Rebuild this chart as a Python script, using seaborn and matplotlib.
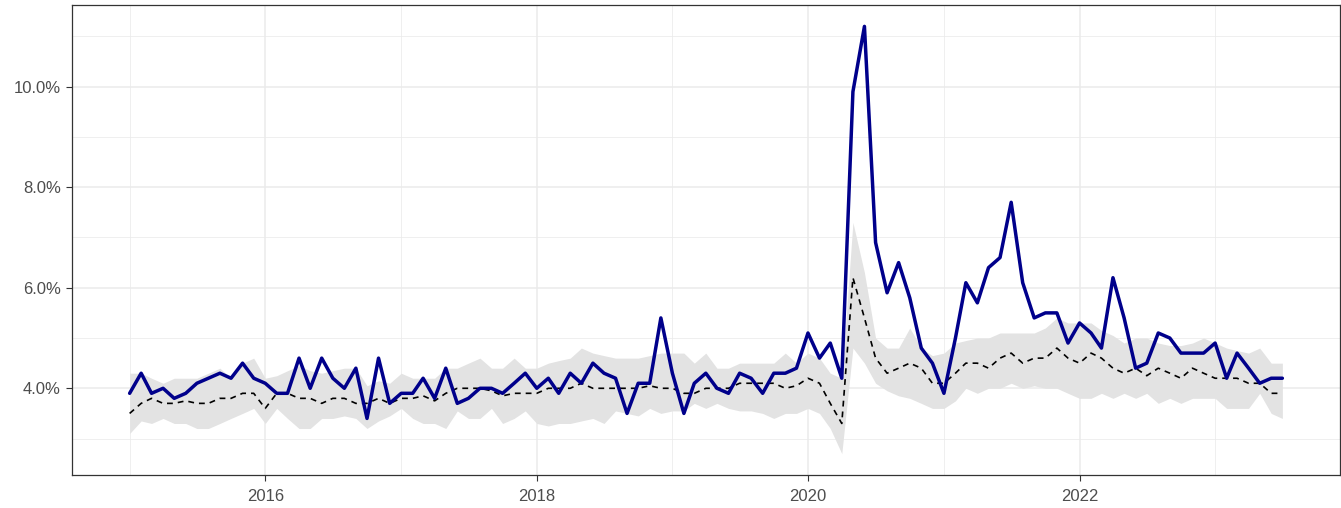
import numpy as np
import pandas as pd
import matplotlib
matplotlib.use("Agg")
import matplotlib.pyplot as plt
import matplotlib.dates as mdates
from matplotlib.ticker import FixedLocator, FuncFormatter
import seaborn as sns

# ---- data (percent) ----
dates = pd.date_range("2015-01-01", "2023-07-01", freq="MS")

actual = [3.9, 4.3, 3.9, 4.0, 3.8, 3.9, 4.1, 4.2, 4.3, 4.2, 4.5, 4.2,
          4.1, 3.9, 3.9, 4.6, 4.0, 4.6, 4.2, 4.0, 4.4, 3.4, 4.6, 3.7,
          3.9, 3.9, 4.2, 3.8, 4.4, 3.7, 3.8, 4.0, 4.0, 3.9, 4.1, 4.3,
          4.0, 4.2, 3.9, 4.3, 4.1, 4.5, 4.3, 4.2, 3.5, 4.1, 4.1, 5.4,
          4.3, 3.5, 4.1, 4.3, 4.0, 3.9, 4.3, 4.2, 3.9, 4.3, 4.3, 4.4,
          5.1, 4.6, 4.9, 4.2, 9.9, 11.2, 6.9, 5.9, 6.5, 5.8, 4.8, 4.5,
          3.9, 5.0, 6.1, 5.7, 6.4, 6.6, 7.7, 6.1, 5.4, 5.5, 5.5, 4.9,
          5.3, 5.1, 4.8, 6.2, 5.4, 4.4, 4.5, 5.1, 5.0, 4.7, 4.7, 4.7,
          4.9, 4.2, 4.7, 4.4, 4.1, 4.2, 4.2]

predicted = [3.5, 3.7, 3.8, 3.7, 3.7, 3.75, 3.7, 3.7, 3.8, 3.8, 3.9, 3.9,
             3.6, 3.9, 3.9, 3.8, 3.8, 3.7, 3.8, 3.8, 3.7, 3.7, 3.8, 3.7,
             3.8, 3.8, 3.85, 3.75, 3.9, 4.0, 4.0, 4.0, 3.95, 3.85, 3.9, 3.9,
             3.9, 4.0, 4.0, 4.0, 4.1, 4.0, 4.0, 4.0, 4.0, 4.0, 4.05, 4.0,
             4.0, 3.9, 3.9, 4.0, 4.0, 4.0, 4.1, 4.1, 4.1, 4.1, 4.0, 4.05,
             4.2, 4.1, 3.7, 3.3, 6.2, 5.4, 4.6, 4.3, 4.4, 4.5, 4.4, 4.1,
             4.1, 4.3, 4.5, 4.5, 4.4, 4.6, 4.7, 4.5, 4.6, 4.6, 4.8, 4.6,
             4.5, 4.7, 4.6, 4.4, 4.3, 4.4, 4.25, 4.4, 4.3, 4.2, 4.4, 4.3,
             4.2, 4.2, 4.2, 4.1, 4.1, 3.9, 3.9]

upper = [4.3, 4.3, 4.2, 4.1, 4.2, 4.2, 4.2, 4.3, 4.4, 4.2, 4.5, 4.6,
         4.2, 4.25, 4.35, 4.45, 4.35, 4.3, 4.35, 4.4, 4.4, 4.05, 4.15, 4.1,
         4.3, 4.2, 4.2, 4.2, 4.4, 4.4, 4.5, 4.6, 4.4, 4.4, 4.6, 4.4,
         4.4, 4.5, 4.55, 4.6, 4.8, 4.7, 4.65, 4.6, 4.6, 4.6, 4.65, 4.7,
         4.7, 4.7, 4.5, 4.7, 4.4, 4.4, 4.5, 4.5, 4.5, 4.5, 4.7, 4.5,
         4.7, 4.6, 4.3, 4.2, 7.3, 6.3, 5.0, 4.8, 4.8, 5.2, 4.8, 4.65,
         4.7, 4.9, 4.95, 5.0, 5.0, 5.1, 5.1, 5.1, 5.1, 5.2, 5.4, 5.3,
         5.3, 5.3, 5.15, 5.05, 4.9, 5.0, 5.0, 4.9, 4.85, 4.85, 4.9, 5.0,
         4.9, 4.8, 4.75, 4.7, 4.8, 4.5, 4.5]

lower = [3.1, 3.35, 3.3, 3.4, 3.3, 3.3, 3.2, 3.2, 3.3, 3.4, 3.5, 3.6,
         3.3, 3.6, 3.4, 3.2, 3.2, 3.4, 3.4, 3.45, 3.4, 3.2, 3.35, 3.45,
         3.6, 3.4, 3.3, 3.3, 3.2, 3.55, 3.4, 3.4, 3.6, 3.3, 3.4, 3.55,
         3.3, 3.25, 3.3, 3.3, 3.35, 3.4, 3.3, 3.55, 3.5, 3.45, 3.6, 3.5,
         3.55, 3.55, 3.7, 3.6, 3.7, 3.6, 3.55, 3.55, 3.5, 3.4, 3.5, 3.5,
         3.6, 3.5, 3.2, 2.7, 4.8, 4.5, 4.1, 3.95, 3.85, 3.8, 3.7, 3.6,
         3.6, 3.75, 4.0, 3.9, 4.0, 4.0, 4.1, 4.0, 4.05, 4.0, 4.0, 3.9,
         3.8, 3.8, 3.9, 3.8, 3.9, 3.8, 3.9, 3.7, 3.8, 3.7, 3.8, 3.8,
         3.8, 3.6, 3.6, 3.6, 3.9, 3.5, 3.4]

y_major = [4, 6, 8, 10]
y_minor = [3, 5, 7, 9, 11]
x_major_years = [2016, 2018, 2020, 2022]
x_minor_years = [2015, 2017, 2019, 2021, 2023]

df = pd.DataFrame({"date": dates, "actual": actual, "predicted": predicted,
                   "upper": upper, "lower": lower})

sns.set_theme(style="white")
plt.rcParams["font.family"] = ["Liberation Sans", "DejaVu Sans"]

fig = plt.figure(figsize=(13.41, 5.08), dpi=100)
ax = fig.add_axes([72 / 1341, 1 - 475 / 508, (1340 - 72) / 1341, (475 - 5) / 508])
ax.set_facecolor("white")

ax.fill_between(df["date"], df["lower"], df["upper"], color="#E3E3E3",
                linewidth=0, zorder=2)
sns.lineplot(data=df, x="date", y="predicted", ax=ax, color="black",
             linewidth=1.2, linestyle=(0, (3.5, 3)), zorder=3)
sns.lineplot(data=df, x="date", y="actual", ax=ax, color="#00008B",
             linewidth=2.5, zorder=4)

# limits with ggplot-like 5% expansion
x0 = mdates.date2num(dates[0])
x1 = mdates.date2num(dates[-1])
dx = (x1 - x0) * 0.05
ax.set_xlim(x0 - dx, x1 + dx)
ymin = min(lower)
ymax = max(actual)
dy = (ymax - ymin) * 0.05
ax.set_ylim(ymin - dy, ymax + dy)

ax.xaxis.set_major_locator(FixedLocator([mdates.date2num(pd.Timestamp(f"{y}-01-01")) for y in x_major_years]))
ax.xaxis.set_minor_locator(FixedLocator([mdates.date2num(pd.Timestamp(f"{y}-01-01")) for y in x_minor_years]))
ax.xaxis.set_major_formatter(mdates.DateFormatter("%Y"))
ax.yaxis.set_major_locator(FixedLocator(y_major))
ax.yaxis.set_minor_locator(FixedLocator(y_minor))
ax.yaxis.set_major_formatter(FuncFormatter(lambda v, p: f"{v:.1f}%"))

ax.grid(True, which="major", color="#EBEBEB", linewidth=1.1, zorder=0)
ax.grid(True, which="minor", color="#EBEBEB", linewidth=0.55, zorder=0)
ax.set_axisbelow(True)

ax.tick_params(axis="both", which="major", length=4, width=0.8, color="#333333",
               labelsize=12, labelcolor="#4D4D4D", bottom=True, left=True)
ax.tick_params(axis="x", which="major", pad=6)
ax.tick_params(axis="y", which="major", pad=4)
ax.tick_params(axis="both", which="minor", length=0)
for s in ax.spines.values():
    s.set_color("#333333")
    s.set_linewidth(0.9)
    s.set_visible(True)

ax.set_xlabel("")
ax.set_ylabel("")
if ax.get_legend() is not None:
    ax.get_legend().remove()

fig.savefig("out.png", dpi=100, facecolor="white")
